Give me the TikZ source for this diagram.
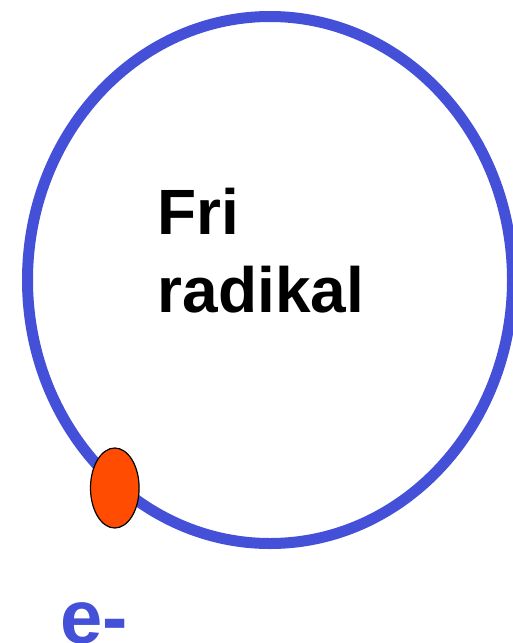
\documentclass[tikz,border=0pt]{standalone}
\usepackage{fontspec}
\setmainfont{Liberation Sans}
\usetikzlibrary{shapes,positioning}
\definecolor{orbitblue}{RGB}{68,80,216}
\definecolor{electronred}{RGB}{255,76,0}

\begin{document}
\begin{tikzpicture}[
    x=1pt, y=1pt,
    orbit/.style={ellipse, draw=orbitblue, line width=11pt, minimum width=485pt, minimum height=527pt, inner sep=0pt},
    electron/.style={ellipse, draw=black, fill=electronred, line width=1.2pt, minimum width=48.6pt, minimum height=80pt, inner sep=0pt},
    label/.style={inner sep=0pt, anchor=base west, font=\fontsize{64}{78}\selectfont\bfseries}
]
    % Frame
    \useasboundingbox[fill=white] (0,0) rectangle (512,-643);

    % Orbit
    \node[orbit] (orbit) at (270,-280) {};

    % Electron
    \node[electron] (el) at (114.8,-488) {};

    % Labels
    \node[label] (fri) at (157.5,-234) {Fri};
    \node[label] (rad) at (157.5,-312) {radikal};
    \node[label, text=orbitblue, font=\fontsize{76}{90}\selectfont\bfseries] (eminus) at (60,-643) {e-};
\end{tikzpicture}
\end{document}
